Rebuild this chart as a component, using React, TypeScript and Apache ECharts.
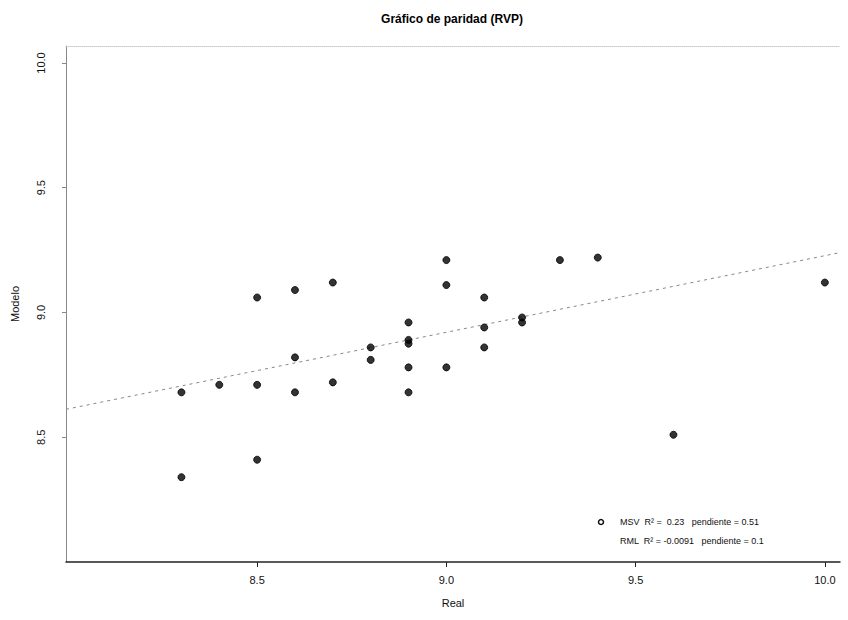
import React, { useEffect, useRef } from "react";
import * as echarts from "echarts";

const realValues = [8.3, 8.3, 8.4, 8.5, 8.5, 8.5, 8.6, 8.6, 8.6, 8.7, 8.7, 8.8, 8.8, 8.9, 8.9, 8.9, 8.9, 8.9, 9.0, 9.0, 9.0, 9.1, 9.1, 9.1, 9.2, 9.2, 9.3, 9.4, 9.6, 10.0];
const modelValues = [8.34, 8.68, 8.71, 9.06, 8.71, 8.41, 9.09, 8.82, 8.68, 9.12, 8.72, 8.86, 8.81, 8.96, 8.89, 8.875, 8.78, 8.68, 9.21, 9.11, 8.78, 9.06, 8.94, 8.86, 8.98, 8.96, 9.21, 9.22, 8.51, 9.12];
const tickValues = [8.5, 9.0, 9.5, 10.0];
const fitLine = [
  [7.995, 8.612],
  [10.04, 9.24],
];
const legendLines = ["MSV  R² =  0.23   pendiente = 0.51", "RML  R² = -0.0091   pendiente = 0.1"];

const FONT = "Liberation Sans, Arial, sans-serif";

export default function App() {
  const ref = useRef<HTMLDivElement>(null);
  useEffect(() => {
    if (!ref.current) return;
    const chart = echarts.init(ref.current, null, { renderer: "svg" });
    const points = realValues.map((x, i) => [x, modelValues[i]]);
    chart.setOption({
      animation: false,
      backgroundColor: "#ffffff",
      title: {
        text: "Gráfico de paridad (RVP)",
        left: 447,
        top: 8,
        textAlign: "center",
        textStyle: { fontFamily: FONT, fontSize: 12, fontWeight: "bold", color: "#000" },
      },
      grid: { left: 66, right: 8, top: 46, bottom: 58, show: false },
      xAxis: [
        {
          type: "value",
          min: 7.995,
          max: 10.04,
          name: "Real",
          nameLocation: "middle",
          nameGap: 35,
          nameTextStyle: { fontFamily: FONT, fontSize: 11, color: "#111" },
          axisLine: { show: true, lineStyle: { color: "#222", width: 1.5 } },
          axisTick: { show: true, customValues: tickValues, length: 5, lineStyle: { color: "#222" } },
          axisLabel: { customValues: tickValues, fontFamily: FONT, fontSize: 11, color: "#111", margin: 12, formatter: (v: number) => v.toFixed(1) },
          splitLine: { show: false },
        },
        {
          type: "value",
          position: "top",
          min: 7.995,
          max: 10.04,
          axisLine: { show: true, lineStyle: { color: "#c8c8c8", type: "dotted", width: 1 } },
          axisTick: { show: false },
          axisLabel: { show: false },
          splitLine: { show: false },
        },
      ],
      yAxis: {
        type: "value",
        min: 8.0,
        max: 10.068,
        name: "Modelo",
        nameLocation: "middle",
        nameGap: 46,
        nameRotate: 90,
        nameTextStyle: { fontFamily: FONT, fontSize: 11, color: "#111" },
        axisLine: { show: true, lineStyle: { color: "#888", width: 1 } },
        axisTick: { show: true, customValues: tickValues, length: 4, lineStyle: { color: "#888" } },
        axisLabel: { customValues: tickValues, rotate: 90, fontFamily: FONT, fontSize: 11, color: "#111", margin: 20, formatter: (v: number) => v.toFixed(1) },
        splitLine: { show: false },
      },
      series: [
        {
          type: "line",
          data: fitLine,
          showSymbol: false,
          lineStyle: { color: "#888", width: 1, type: [3, 4] },
          silent: true,
          z: 1,
        },
        {
          type: "scatter",
          data: points,
          symbol: "circle",
          symbolSize: 7,
          itemStyle: { color: "#000", borderColor: "#000", borderWidth: 1 },
          z: 2,
        },
      ],
      graphic: [
        { type: "circle", shape: { cx: 601, cy: 522, r: 2.5 }, style: { fill: "#fff", stroke: "#111", lineWidth: 1.5 } },
        { type: "text", x: 620, y: 522, style: { text: legendLines[0], fontFamily: FONT, fontSize: 9, fill: "#111", verticalAlign: "middle" } },
        { type: "text", x: 620, y: 541, style: { text: legendLines[1], fontFamily: FONT, fontSize: 9, fill: "#111", verticalAlign: "middle" } },
      ],
    });
    return () => chart.dispose();
  }, []);
  return <div ref={ref} style={{ position: "fixed", left: 0, top: 0, width: 848, height: 620 }} />;
}
